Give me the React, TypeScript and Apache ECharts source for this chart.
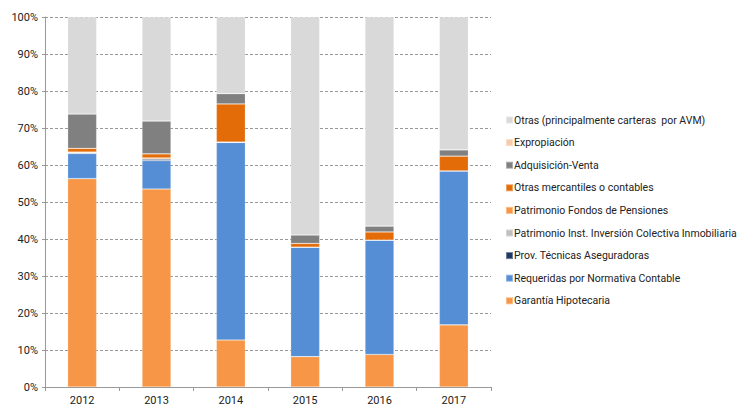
import React, { useEffect, useRef } from "react";
import * as echarts from "echarts";

// Years on the category axis
const years = ["2012", "2013", "2014", "2015", "2016", "2017"];

// Share of each purpose of valuation per year (%), stacked bottom to top
const garantiaHipotecaria = [56.3, 53.5, 12.7, 8.2, 8.8, 16.8];
const requeridasNormativa = [6.8, 7.7, 53.4, 29.6, 30.9, 41.6];
const provTecnicas = [0.2, 0.4, 0, 0, 0, 0];
const patrimonioIIC = [0, 0, 0, 0, 0, 0];
const fondosPensiones = [0.2, 0.3, 0.1, 0, 0, 0];
const otrasMercantiles = [1.0, 1.1, 10.3, 1.0, 2.2, 4.0];
const adquisicionVenta = [9.3, 8.9, 2.8, 2.3, 1.6, 1.7];
const expropiacion = [0, 0, 0, 0, 0, 0];
const otrasAVM = [26.2, 28.1, 20.7, 58.9, 56.5, 35.9];

const yTicks = [0, 10, 20, 30, 40, 50, 60, 70, 80, 90, 100];

const FONT = "Roboto, 'Noto Sans', sans-serif";

const seriesDefs = [
  { name: "Garantía Hipotecaria", data: garantiaHipotecaria, color: "#F79646" },
  { name: "Requeridas por Normativa Contable", data: requeridasNormativa, color: "#558ED5" },
  { name: "Prov. Técnicas Aseguradoras", data: provTecnicas, color: "#1F3864" },
  { name: "Patrimonio Inst. Inversión Colectiva Inmobiliaria", data: patrimonioIIC, color: "#BFBFBF" },
  { name: "Patrimonio Fondos de Pensiones", data: fondosPensiones, color: "#F79646" },
  { name: "Otras mercantiles o contables", data: otrasMercantiles, color: "#E36C09" },
  { name: "Adquisición-Venta", data: adquisicionVenta, color: "#808080" },
  { name: "Expropiación", data: expropiacion, color: "#F8CBAD" },
  { name: "Otras (principalmente carteras  por AVM)", data: otrasAVM, color: "#D9D9D9" },
];

export default function App() {
  const ref = useRef<HTMLDivElement>(null);

  useEffect(() => {
    if (!ref.current) return;
    const chart = echarts.init(ref.current, null, { renderer: "svg" });
    chart.setOption({
      animation: false,
      grid: { left: 45, right: 248, top: 17, bottom: 20, containLabel: false },
      legend: {
        orient: "vertical",
        left: 505,
        top: 113,
        padding: 0,
        icon: "rect",
        itemWidth: 7,
        itemHeight: 7,
        itemGap: 8.6,
        selectedMode: false,
        textStyle: { fontFamily: FONT, fontSize: 10.5, color: "#222", lineHeight: 14, padding: [0, 0, 0, -4] },
        data: seriesDefs.map((s) => s.name).reverse(),
      },
      xAxis: {
        type: "category",
        data: years,
        axisLine: { lineStyle: { color: "#999", width: 1 } },
        axisTick: { show: true, length: 4, alignWithLabel: false, lineStyle: { color: "#999" } },
        axisLabel: { fontFamily: FONT, fontSize: 11, color: "#222", margin: 8 },
      },
      yAxis: {
        type: "value",
        min: yTicks[0],
        max: yTicks[yTicks.length - 1],
        interval: 10,
        axisLine: { show: true, lineStyle: { color: "#999", width: 1 } },
        axisTick: { show: true, length: 3, lineStyle: { color: "#999" } },
        axisLabel: { fontFamily: FONT, fontSize: 11, color: "#222", margin: 7, formatter: "{value}%" },
        splitLine: { show: true, lineStyle: { color: "#999", type: [3, 2], width: 1 } },
      },
      series: seriesDefs.map((s) => ({
        name: s.name,
        type: "bar",
        stack: "total",
        data: s.data,
        barWidth: 29,
        itemStyle: { color: s.color, borderColor: "rgba(255,255,255,0.35)", borderWidth: 0.6 },
        emphasis: { disabled: true },
      })),
    });
    return () => chart.dispose();
  }, []);

  return <div ref={ref} style={{ width: 739, height: 407, position: "absolute", left: 0, top: 0, background: "#fff" }} />;
}
